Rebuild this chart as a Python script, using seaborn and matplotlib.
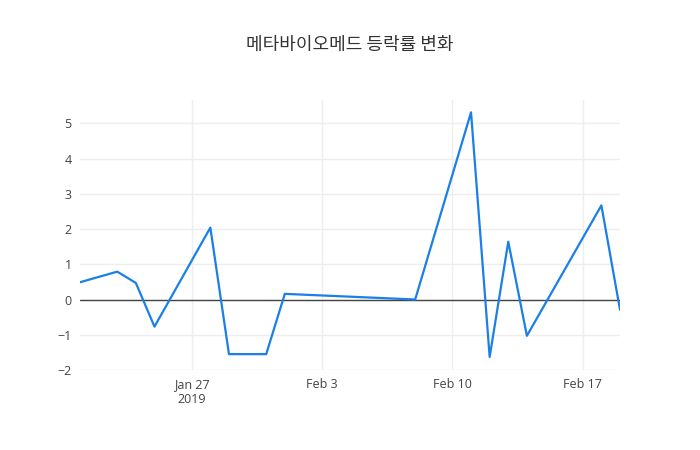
import matplotlib
matplotlib.use("Agg")
import matplotlib.pyplot as plt
import seaborn as sns
import pandas as pd

dates = ["2019-01-21", "2019-01-23", "2019-01-24", "2019-01-25", "2019-01-28",
         "2019-01-29", "2019-01-31", "2019-02-01", "2019-02-08", "2019-02-11",
         "2019-02-12", "2019-02-13", "2019-02-14", "2019-02-18", "2019-02-19"]
rates = [0.49, 0.79, 0.47, -0.77, 2.04, -1.55, -1.55, 0.16, 0.0, 5.31,
         -1.63, 1.64, -1.03, 2.67, -0.29]
title = "메타바이오메드 등락률 변화"
tick_dates = ["2019-01-27", "2019-02-03", "2019-02-10", "2019-02-17"]
tick_labels = ["Jan 27\n2019", "Feb 3", "Feb 10", "Feb 17"]
yticks = [-2, -1, 0, 1, 2, 3, 4, 5]

sns.set_style("white")
plt.rcParams['font.family'] = ['Open Sans', 'Noto Sans CJK KR', 'DejaVu Sans']
plt.rcParams['axes.unicode_minus'] = True

df = pd.DataFrame({"date": pd.to_datetime(dates), "rate": rates})

fig = plt.figure(figsize=(7, 4.5), dpi=100)
ax = fig.add_axes([80/700, 80/450, 540/700, 270/450])
sns.lineplot(data=df, x="date", y="rate", ax=ax, color="#1a7fe6", linewidth=1.6, zorder=3)

ax.set_xlim(df["date"].min(), df["date"].max())
ax.set_ylim(-1.98, 5.66)
ax.set_yticks(yticks)
ax.set_yticklabels(["\u2212" + str(-v) if v < 0 else str(v) for v in yticks])
ax.set_xticks(pd.to_datetime(tick_dates))
ax.set_xticklabels(tick_labels)
ax.grid(True, color="#eeeeee", linewidth=1)
ax.axhline(0, color="#444444", linewidth=1, zorder=2)
for s in ax.spines.values():
    s.set_visible(False)
ax.tick_params(axis="both", length=0, labelsize=9, colors="#444444", pad=6)
ax.set_xlabel("")
ax.set_ylabel("")

fig.text(0.5, 1 - 45/450, title, ha="center", va="center", fontsize=13, color="#333333",
         family=['Noto Sans CJK KR', 'DejaVu Sans'])

fig.savefig("out.png", dpi=100, facecolor="white")
